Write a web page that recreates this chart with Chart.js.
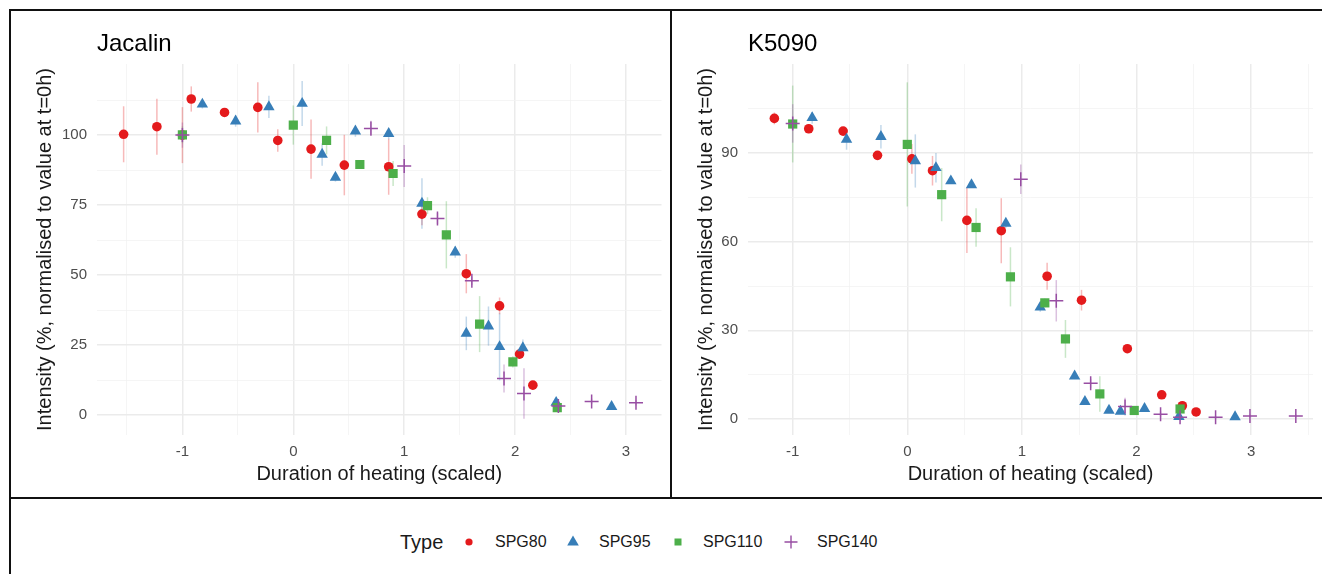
<!DOCTYPE html>
<html>
<head>
<meta charset="utf-8">
<script src="https://cdn.jsdelivr.net/npm/chart.js@4.4.1/dist/chart.umd.min.js"></script>
<style>
  body { margin: 0; width: 1322px; height: 574px; background: #fff; position: relative; overflow: hidden;
         font-family: "Liberation Sans", Arial, sans-serif; }
  .frame { position: absolute; background: #111; }
  .panel { position: absolute; }
  .ptitle { position: absolute; top: 31px; font-size: 24px; line-height: 24px; color: #000; }
  .leg { position: absolute; top: 532px; font-size: 16px; line-height: 20px; color: #1a1a1a; white-space: nowrap; }
  .leg svg { display: block; }
</style>
</head>
<body>
<div class="frame" style="left:9px;top:9px;width:1313px;height:2px"></div>
<div class="frame" style="left:9px;top:9px;width:2px;height:565px"></div>
<div class="frame" style="left:670px;top:9px;width:2px;height:489px"></div>
<div class="frame" style="left:9px;top:497px;width:1313px;height:2px"></div>

<div class="panel" style="left:11px;top:11px;width:659px;height:486px"><canvas id="jacalin"></canvas></div>
<div class="panel" style="left:672px;top:11px;width:650px;height:486px"><canvas id="k5090"></canvas></div>
<div class="ptitle" style="left:97px">Jacalin</div>
<div class="ptitle" style="left:748px">K5090</div>

<div class="leg" style="left:400px;font-size:20px;top:531px;line-height:22px">Type</div>
<div class="leg" style="left:464px;top:537px"><svg width="10" height="10"><circle cx="5" cy="5" r="3.6" fill="#E41A1C"/></svg></div>
<div class="leg" style="left:495px">SPG80</div>
<div class="leg" style="left:567px;top:535px"><svg width="12" height="11"><polygon points="6,0.5 11.8,10.5 0.2,10.5" fill="#377EB8"/></svg></div>
<div class="leg" style="left:599px">SPG95</div>
<div class="leg" style="left:674px;top:538px"><svg width="8" height="8"><rect x="0.5" y="0.5" width="7" height="7" fill="#4DAF4A"/></svg></div>
<div class="leg" style="left:703px">SPG110</div>
<div class="leg" style="left:784px;top:535px"><svg width="14" height="14"><path d="M7 0.5V13.5M0.5 7H13.5" stroke="#984EA3" stroke-width="1.4"/></svg></div>
<div class="leg" style="left:817px">SPG140</div>

<script>
// series names and colours
const types = ["SPG80", "SPG95", "SPG110", "SPG140"];
const colors = ["#E41A1C", "#377EB8", "#4DAF4A", "#984EA3"];
const barColors = ["rgba(228,26,28,0.3)", "rgba(55,126,184,0.3)", "rgba(77,175,74,0.3)", "rgba(152,78,163,0.35)"];

// Jacalin: [scaled duration, intensity %, error]
const jacalinSPG80 = [[-1.53, 100.3, 10], [-1.23, 103, 10], [-1.0, 100, 10], [-0.92, 112.9, 4.5], [-0.62, 108.1, 1.5],
  [-0.32, 109.9, 9], [-0.14, 98.1, 4], [0.16, 95, 10.6], [0.46, 89.3, 10.8], [0.86, 88.7, 10], [1.16, 71.8, 4],
  [1.56, 50.5, 7], [1.86, 39, 3], [2.04, 21.8, 1.5], [2.16, 10.7, 1.5]];
const jacalinSPG95 = [[-0.82, 111, 1.5], [-0.52, 105, 2], [-0.22, 110.1, 4], [0.08, 111.3, 8], [0.26, 93.1, 4],
  [0.38, 84.9, 1.5], [0.56, 101.4, 2], [0.86, 100.5, 2], [1.16, 75.6, 9], [1.46, 58.2, 2], [1.56, 29.2, 6],
  [1.76, 31.8, 7], [1.86, 24.4, 12], [2.07, 24, 3], [2.37, 4.5, 1.5], [2.87, 3, 1]];
const jacalinSPG110 = [[-1.0, 100.1, 3], [0.0, 103.6, 7], [0.3, 98.1, 5], [0.6, 89.5, 1], [0.9, 86.3, 4.5],
  [1.21, 74.8, 3], [1.38, 64.4, 12], [1.68, 32.5, 10], [1.98, 19, 2], [2.38, 2.7, 1]];
const jacalinSPG140 = [[-1.0, 100, 4.5], [0.7, 102.4, 2.7], [1.0, 89, 7.5], [1.3, 70.2, 2], [1.61, 48, 1.5],
  [1.9, 13.1, 5], [2.08, 7.7, 9], [2.39, 3.3, 1], [2.69, 4.9, 1], [3.09, 4.4, 1]];

// K5090
const k5090SPG80 = [[-1.16, 101.7, 2], [-0.86, 98.2, 1.5], [-0.56, 97.4, 1], [-0.26, 89.2, 1], [0.04, 88, 5],
  [0.22, 84, 5], [0.52, 67.2, 11], [0.82, 63.7, 11], [1.22, 48.3, 4.6], [1.52, 40.2, 3.5], [1.92, 23.8, 1],
  [2.22, 8.2, 1], [2.4, 4.5, 1.5], [2.52, 2.4, 0.5]];
const k5090SPG95 = [[-0.83, 101.9, 2], [-0.53, 94.6, 3.5], [-0.23, 95.5, 4], [0.07, 87.3, 9], [0.25, 85, 5],
  [0.38, 80.5, 1], [0.56, 79.2, 1], [0.86, 66.2, 1.5], [1.16, 37.8, 1.5], [1.46, 14.5, 1], [1.55, 5.9, 1],
  [1.76, 2.9, 0.5], [1.86, 2.6, 0.5], [2.07, 3.5, 0.5], [2.37, 0.8, 0.5], [2.86, 0.7, 0.5]];
const k5090SPG110 = [[-1.0, 99.8, 13], [0.0, 92.9, 21], [0.3, 75.9, 9], [0.6, 64.8, 6.5], [0.9, 48.1, 10],
  [1.2, 39.3, 1.5], [1.38, 27.1, 6.4], [1.68, 8.5, 6], [1.98, 2.9, 0.5], [2.38, 3.4, 1]];
const k5090SPG140 = [[-1.0, 100, 6.5], [0.99, 81.1, 5], [1.3, 40, 7], [1.6, 12.1, 1.5], [1.9, 4.2, 3],
  [2.21, 1.6, 1], [2.38, 0.6, 1], [2.69, 0.6, 0.5], [2.99, 1.0, 0.5], [3.39, 1.0, 0.5]];

// tick values (major are labelled, minor only get a thin grid line)
const xMajor = [-1, 0, 1, 2, 3];
const jacalinXMinor = [-1.5, -0.5, 0.5, 1.5, 2.5];
const k5090XMinor = [-0.5, 0.5, 1.5, 2.5, 3.5];
const jacalinYMajor = [0, 25, 50, 75, 100];
const jacalinYMinor = [12.5, 37.5, 62.5, 87.5, 112.5];
const k5090YMajor = [0, 30, 60, 90];
const k5090YMinor = [15, 45, 75, 105];

const FONT = "'Liberation Sans', Arial, sans-serif";

// vertical error bars, drawn under the points
const errorBars = {
  id: "errorBars",
  beforeDatasetsDraw(chart) {
    const { ctx, scales: { x, y } } = chart;
    ctx.save();
    ctx.lineWidth = 1.5;
    chart.data.datasets.forEach(ds => {
      ctx.strokeStyle = ds.barColor;
      ds.data.forEach(p => {
        const px = x.getPixelForValue(p.x);
        ctx.beginPath();
        ctx.moveTo(px, y.getPixelForValue(p.y - p.err));
        ctx.lineTo(px, y.getPixelForValue(p.y + p.err));
        ctx.stroke();
      });
    });
    ctx.restore();
  }
};

function axis(major, minor, range, extra) {
  return Object.assign({
    type: "linear",
    min: range[0],
    max: range[1],
    afterBuildTicks: s => {
      s.ticks = major.concat(minor).sort((a, b) => a - b).map(v => ({ value: v }));
    },
    border: { display: false },
    grid: {
      drawTicks: false,
      color: c => major.includes(c.tick.value) ? "#ebebeb" : "#f3f3f3",
      lineWidth: c => major.includes(c.tick.value) ? 1.5 : 0.8
    },
    ticks: {
      autoSkip: false,
      maxRotation: 0,
      color: "#4d4d4d",
      font: { family: FONT, size: 15 },
      callback: v => major.includes(v) ? String(v) : ""
    }
  }, extra);
}

function makeChart(id, series, xMinor, yMajor, yMinor, xRange, yRange, yWidth, padRight) {
  const shapes = ["circle", "triangle", "rect", "cross"];
  const radius = [4.8, 6.6, 6.5, 7];
  const datasets = series.map((rows, i) => ({
    label: types[i],
    data: rows.map(r => ({ x: r[0], y: r[1], err: r[2] })),
    pointStyle: shapes[i],
    pointRadius: radius[i],
    backgroundColor: colors[i],
    borderColor: colors[i],
    borderWidth: i === 3 ? 1.5 : 0,
    barColor: barColors[i],
    order: 4 - i
  }));

  return new Chart(document.getElementById(id), {
    type: "scatter",
    data: { datasets },
    plugins: [errorBars],
    options: {
      responsive: true,
      maintainAspectRatio: false,
      animation: false,
      layout: { padding: { top: 53, right: padRight, left: 0, bottom: 0 } },
      plugins: { legend: { display: false }, tooltip: { enabled: false } },
      scales: {
        x: axis(xMajor, xMinor, xRange, {
          afterFit: s => { s.height = 62; },
          title: { display: true, text: "Duration of heating (scaled)", color: "#1a1a1a",
                   font: { family: FONT, size: 20 }, padding: { top: 0, bottom: 11 } }
        }),
        y: Object.assign(axis(yMajor, yMinor, yRange, {
          afterFit: s => { s.width = yWidth; },
          title: { display: true, text: "Intensity (%, normalised to value at t=0h)", color: "#1a1a1a",
                   font: { family: FONT, size: 20 }, padding: { top: 22, bottom: 0 } }
        }))
      }
    }
  });
}

Chart.defaults.scales.linear.ticks.padding = 0;

const jc = makeChart("jacalin", [jacalinSPG80, jacalinSPG95, jacalinSPG110, jacalinSPG140],
  jacalinXMinor, jacalinYMajor, jacalinYMinor, [-1.77, 3.32], [-7.1, 125.4], 86, 7);
const kc = makeChart("k5090", [k5090SPG80, k5090SPG95, k5090SPG110, k5090SPG140],
  k5090XMinor, k5090YMajor, k5090YMinor, [-1.39, 3.54], [-5.4, 120.1], 76, 9);

// tick label gaps
[jc, kc].forEach(c => {
  c.options.scales.x.ticks.padding = 8;
  c.options.scales.y.ticks.padding = 10;
  c.update();
});
</script>
</body>
</html>
